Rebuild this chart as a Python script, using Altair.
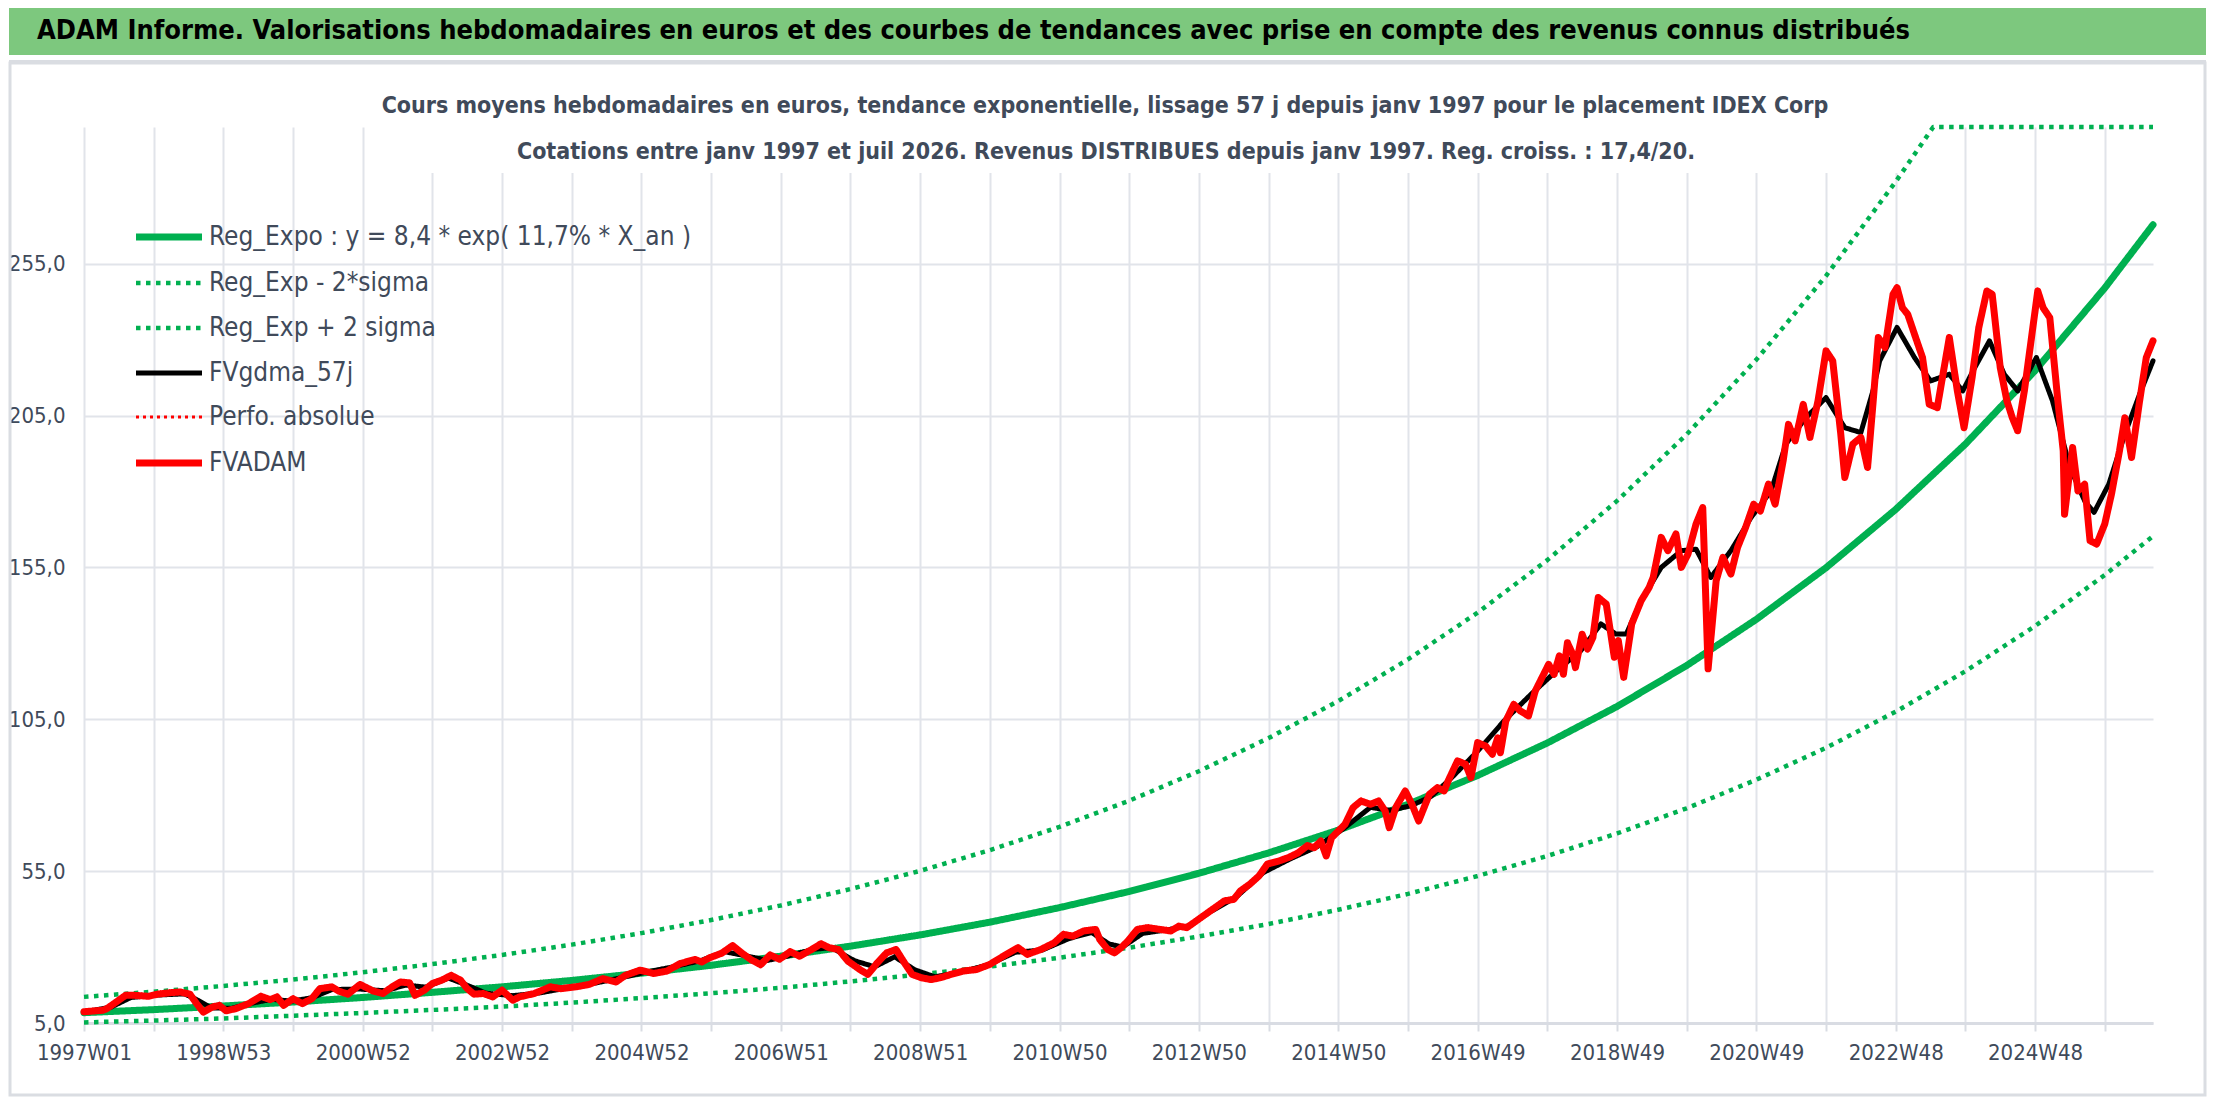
import altair as alt
import pandas as pd

FONT = "Liberation Sans Narrow, DejaVu Sans Condensed, Roboto, sans-serif"
TXT = "#404A5A"
GRID = "#E1E4EA"
GREEN = "#00B050"

header_text = ("ADAM Informe. Valorisations hebdomadaires en euros et des courbes de tendances "
               "avec prise en compte des revenus connus distribués")
subtitle_1 = ("Cours moyens hebdomadaires en euros, tendance exponentielle, lissage 57 j "
              "depuis janv 1997 pour le placement IDEX Corp")
subtitle_2 = ("Cotations entre janv 1997 et juil 2026. Revenus DISTRIBUES depuis janv 1997. "
              "Reg. croiss. : 17,4/20.")

series_names = [
    "Reg_Expo : y = 8,4 * exp( 11,7% *  X_an )",
    "Reg_Exp - 2*sigma",
    "Reg_Exp + 2 sigma",
    "FVgdma_57j",
    "Perfo. absolue",
    "FVADAM",
]
series_colors = [GREEN, GREEN, GREEN, "#000000", "#FF0000", "#FF0000"]
series_dashes = [[1, 0], [4.5, 5.5], [4.5, 5.5], [1, 0], [3, 4], [1, 0]]
series_widths = [7, 4.5, 4.5, 5, 3, 7]

# x axis: week index since 1997W01, a label every 104 weeks
tick_labels = ["1997W01", "1998W53", "2000W52", "2002W52", "2004W52", "2006W51", "2008W51",
               "2010W50", "2012W50", "2014W50", "2016W49", "2018W49", "2020W49", "2022W48",
               "2024W48"]
grid_weeks = list(range(0, 1509, 52))
y_ticks = [5, 55, 105, 155, 205, 255]

# trend curves, one value per year
trend_weeks = list(range(0, 1509, 52)) + [1544]
reg_values = [8.4, 9.4, 10.6, 11.9, 13.4, 15.1, 16.9, 19.0, 21.4, 24.0, 27.0, 30.3, 34.0, 38.2,
              43.0, 48.3, 54.3, 61.0, 68.5, 77.0, 86.5, 97.2, 109.2, 122.7, 137.9, 154.9,
              174.1, 195.6, 219.8, 247.0, 267.8]
lower_values = [5.2, 5.8, 6.5, 7.4, 8.3, 9.3, 10.4, 11.7, 13.2, 14.8, 16.6, 18.7, 21.0, 23.6,
                26.5, 29.8, 33.5, 37.6, 42.3, 47.5, 53.4, 60.0, 67.4, 75.7, 85.1, 95.6, 107.5,
                120.8, 135.7, 152.5, 165.3]
upper_weeks = list(range(0, 1353, 52)) + [1380, 1544]
upper_values = [13.6, 15.3, 17.2, 19.3, 21.7, 24.4, 27.4, 30.8, 34.6, 38.9, 43.7, 49.1, 55.1,
                61.9, 69.6, 78.2, 87.9, 98.8, 111.0, 124.7, 140.1, 157.4, 176.9, 198.8, 223.4,
                251.0, 282.0, 300.0, 300.0]

# smoothed price (57 days)
gdma_weeks = [0, 20, 35, 55, 75, 85, 95, 110, 125, 140, 155, 170, 185, 205, 225, 240, 255, 272,
              285, 300, 320, 340, 360, 380, 400, 420, 440, 460, 478, 495, 510, 525, 545, 558,
              575, 590, 605, 620, 635, 655, 675, 695, 715, 735, 752, 765, 775, 790, 810, 825,
              840, 860, 880, 900, 920, 940, 960, 975, 990, 1005, 1020, 1040, 1060, 1080, 1099,
              1117, 1132, 1143, 1151, 1162, 1177, 1192, 1203, 1214, 1229, 1244, 1259, 1270,
              1285, 1300, 1314, 1326, 1335, 1340, 1353, 1366, 1378, 1392, 1402, 1411, 1422,
              1433, 1443, 1457, 1469, 1482, 1493, 1500, 1511, 1523, 1534, 1544]
gdma_values = [8.6, 10.2, 13.4, 14.2, 14.6, 12.5, 10.0, 9.8, 11.5, 12.8, 12.2, 13.3, 16.0, 16.2,
               15.6, 17.5, 16.8, 19.8, 17.6, 14.8, 14.0, 14.9, 16.5, 18.0, 19.8, 21.8, 23.5,
               25.5, 28.5, 27.0, 25.6, 27.0, 29.3, 29.8, 25.5, 23.5, 26.8, 22.5, 20.2, 21.8,
               24.2, 28.3, 29.0, 32.8, 34.8, 31.0, 30.0, 34.5, 35.8, 37.0, 41.5, 46.5, 54.5,
               59.0, 63.0, 69.0, 76.0, 75.0, 76.5, 79.5, 85.5, 94.5, 104.6, 113.3, 121.0, 127.6,
               136.4, 133.1, 133.1, 144.0, 155.0, 160.5, 161.0, 151.7, 160.5, 171.4, 180.2,
               195.6, 204.3, 210.9, 201.0, 199.4, 213.1, 223.0, 234.0, 224.1, 216.4, 218.6,
               213.1, 220.8, 229.6, 218.6, 213.1, 224.1, 209.8, 187.9, 176.9, 173.1, 182.4,
               198.9, 212.0, 223.0]

# weekly valuation
adam_weeks = [0, 14, 17, 31, 38, 48, 55, 65, 72, 79, 84, 89, 96, 101, 106, 113, 123, 132, 139,
              144, 149, 156, 163, 170, 176, 185, 190, 197, 206, 216, 223, 230, 236, 243, 247,
              254, 260, 267, 274, 281, 286, 291, 298, 305, 312, 320, 325, 336, 348, 356, 367,
              377, 387, 397, 404, 415, 425, 435, 445, 456, 461, 467, 476, 484, 491, 498, 505,
              512, 519, 527, 534, 543, 550, 556, 563, 570, 579, 585, 592, 599, 606, 613, 618,
              625, 632, 639, 647, 656, 666, 676, 686, 697, 704, 714, 724, 731, 738, 746, 755,
              758, 764, 769, 774, 779, 786, 794, 803, 811, 817, 823, 830, 837, 844, 851, 858,
              863, 870, 877, 883, 892, 899, 906, 913, 918, 923, 927, 931, 936, 941, 947, 953,
              960, 966, 971, 974, 979, 986, 991, 996, 1004, 1010, 1015, 1018, 1025, 1031, 1035,
              1040, 1046, 1051, 1055, 1057, 1061, 1067, 1072, 1078, 1083, 1088, 1093, 1097,
              1101, 1104, 1107, 1111, 1113, 1118, 1122, 1126, 1130, 1136, 1142, 1145, 1149,
              1155, 1162, 1168, 1171, 1177, 1182, 1188, 1192, 1197, 1203, 1208, 1212, 1218,
              1223, 1229, 1234, 1240, 1246, 1251, 1257, 1262, 1268, 1272, 1277, 1283, 1288,
              1294, 1300, 1305, 1311, 1314, 1320, 1326, 1331, 1335, 1339, 1344, 1350, 1353,
              1357, 1361, 1366, 1372, 1377, 1383, 1389, 1392, 1398, 1403, 1409, 1414, 1420,
              1424, 1430, 1435, 1439, 1443, 1448, 1454, 1458, 1462, 1467, 1473, 1477, 1478,
              1484, 1488, 1493, 1497, 1502, 1508, 1513, 1519, 1523, 1528, 1534, 1539, 1544]
adam_values = [8.7, 9.2, 9.7, 14.1, 14.1, 13.8, 14.5, 15.0, 15.2, 14.5, 11.4, 8.6, 10.3, 10.8,
               9.0, 9.7, 11.4, 13.8, 12.7, 13.6, 10.8, 13.0, 11.4, 13.0, 16.3, 16.9, 15.5, 14.5,
               17.7, 15.5, 14.7, 16.9, 18.5, 18.2, 14.1, 15.8, 18.0, 19.1, 20.7, 19.1, 16.3,
               14.5, 14.7, 13.6, 15.8, 12.5, 13.6, 14.7, 16.9, 16.3, 16.9, 17.7, 19.6, 18.5,
               20.7, 22.4, 21.3, 22.1, 24.6, 25.9, 25.1, 26.5, 28.0, 30.5, 28.0, 25.8, 24.2,
               27.4, 26.0, 28.5, 27.0, 29.2, 31.1, 29.8, 29.2, 25.4, 22.6, 21.0, 24.8, 28.1,
               29.2, 24.3, 21.0, 19.9, 19.3, 19.9, 21.0, 22.1, 22.6, 24.3, 27.0, 29.8, 27.6,
               29.2, 31.4, 34.2, 33.6, 35.3, 35.8, 32.5, 29.2, 28.1, 29.8, 32.0, 35.8, 36.4,
               35.8, 35.3, 36.9, 36.4, 38.6, 40.8, 43.0, 45.2, 45.7, 48.5, 50.7, 53.5, 57.3,
               58.4, 59.5, 61.0, 63.4, 62.7, 64.9, 60.0, 66.0, 68.2, 70.4, 75.9, 78.1, 77.0,
               78.1, 74.8, 69.3, 76.0, 81.4, 77.0, 71.5, 80.3, 82.5, 81.4, 84.7, 91.3, 90.2,
               85.8, 97.3, 96.2, 93.5, 98.9, 94.0, 104.4, 109.9, 107.7, 106.1, 114.3, 118.7,
               123.1, 119.8, 125.9, 119.8, 130.2, 126.4, 122.0, 133.0, 128.1, 131.9, 145.1,
               142.9, 125.4, 130.9, 118.8, 136.4, 144.0, 148.4, 151.7, 164.9, 160.5, 166.0,
               155.0, 159.4, 169.3, 174.7, 121.6, 150.6, 158.3, 152.8, 161.6, 168.2, 175.8,
               173.6, 182.4, 175.8, 190.1, 202.1, 196.7, 208.7, 197.8, 209.8, 226.3, 223.0,
               198.9, 184.6, 195.6, 197.8, 187.9, 208.7, 230.7, 227.4, 244.9, 247.1, 240.5,
               238.3, 231.8, 224.1, 208.7, 207.6, 223.0, 230.7, 213.1, 201.0, 217.5, 234.0,
               246.0, 244.9, 220.8, 209.8, 204.3, 200.0, 213.1, 232.9, 246.0, 240.5, 237.2,
               209.8, 193.4, 172.5, 194.5, 180.2, 182.4, 163.8, 162.7, 169.3, 179.1, 193.4,
               204.3, 191.2, 209.8, 224.1, 229.6]


def series_frame(name, weeks, values):
    return pd.DataFrame({"week": weeks, "value": values, "series": name})


frames = [
    series_frame(series_names[0], trend_weeks, reg_values),
    series_frame(series_names[1], trend_weeks, lower_values),
    series_frame(series_names[2], upper_weeks, upper_values),
    series_frame(series_names[3], gdma_weeks, gdma_values),
    series_frame(series_names[5], adam_weeks, adam_values),
]

label_js = "[" + ",".join(f"'{t}'" for t in tick_labels) + "]"

x_enc = alt.X(
    "week:Q",
    scale=alt.Scale(domain=[0, 1544], nice=False, zero=False),
    axis=alt.Axis(
        values=grid_weeks, title=None,
        labelExpr=f"datum.value % 104 == 0 ? {label_js}[datum.value / 104] : ''",
        labelFont=FONT, labelFontSize=22, labelColor=TXT, labelPadding=11,
        labelFlush=False, labelOverlap=False, labelBound=False,
        grid=True, gridColor=GRID, gridWidth=2,
        domainColor="#D9DCE3", domainWidth=3,
        tickColor="#D9DCE3", tickWidth=2, tickSize=8,
    ),
)
y_enc = alt.Y(
    "value:Q",
    scale=alt.Scale(domain=[5, 300], nice=False, zero=False),
    axis=alt.Axis(
        values=y_ticks, title=None,
        labelExpr="replace(format(datum.value, '.1f'), '.', ',')",
        labelFont=FONT, labelFontSize=22, labelColor=TXT, labelPadding=19,
        labelFlush=False, domain=False, ticks=False, tickSize=0,
        grid=True, gridColor=GRID, gridWidth=2,
    ),
)
legend = alt.Legend(
    title=None, orient="none", legendX=65, legendY=90, padding=0,
    symbolType="M-2,0H2", symbolSize=1089, symbolOpacity=1,
    labelFont=FONT, labelFontSize=26, labelColor=TXT, labelOffset=20,
    labelLimit=0, rowPadding=13,
)
enc = dict(
    x=x_enc,
    y=y_enc,
    color=alt.Color("series:N", scale=alt.Scale(domain=series_names, range=series_colors),
                    legend=legend),
    strokeDash=alt.StrokeDash("series:N", scale=alt.Scale(domain=series_names, range=series_dashes),
                              legend=legend),
    strokeWidth=alt.StrokeWidth("series:N",
                                scale=alt.Scale(type="ordinal", domain=series_names,
                                                range=series_widths),
                                legend=legend),
)


def line_layer(frame, cap="round"):
    return alt.Chart(frame).mark_line(strokeCap=cap, strokeJoin="round").encode(**enc)


one = pd.DataFrame({"k": [0]})
header_bg = alt.Chart(one).mark_rect(color="#7DC87E").encode(
    x=alt.value(-75), x2=alt.value(2122), y=alt.value(-119), y2=alt.value(-72))
header_sep = alt.Chart(one).mark_rect(color="#DADDE2").encode(
    x=alt.value(-75), x2=alt.value(2122), y=alt.value(-67), y2=alt.value(-64))
frame_box = alt.Chart(one).mark_rect(fill=None, stroke="#DADDE2", strokeWidth=3).encode(
    x=alt.value(-74), x2=alt.value(2121), y=alt.value(-64), y2=alt.value(968))
title_box = alt.Chart(one).mark_rect(color="white").encode(
    x=alt.value(317), x2=alt.value(1817), y=alt.value(-2), y2=alt.value(46))

header = alt.Chart(pd.DataFrame({"label": [header_text]})).mark_text(
    align="left", baseline="alphabetic", font=FONT, fontSize=27, fontWeight="bold",
    color="#000000").encode(x=alt.value(-47), y=alt.value(-88), text="label:N")
sub1 = alt.Chart(pd.DataFrame({"label": [subtitle_1]})).mark_text(
    align="center", baseline="alphabetic", font=FONT, fontSize=23, fontWeight="bold",
    color=TXT).encode(x=alt.value(1021), y=alt.value(-14), text="label:N")
sub2 = alt.Chart(pd.DataFrame({"label": [subtitle_2]})).mark_text(
    align="center", baseline="alphabetic", font=FONT, fontSize=23, fontWeight="bold",
    color=TXT).encode(x=alt.value(1022), y=alt.value(32), text="label:N")

chart = alt.layer(
    header_bg, header_sep, frame_box, title_box,
    line_layer(frames[0]),
    line_layer(frames[1], cap="butt"),
    line_layer(frames[2], cap="butt"),
    line_layer(frames[3]),
    line_layer(frames[4]),
    header, sub1, sub2,
).properties(
    width=2069, height=896, padding=0,
).configure_view(
    stroke=None,
)

chart.save("out.html", embed_options={"renderer": "svg", "actions": False})
